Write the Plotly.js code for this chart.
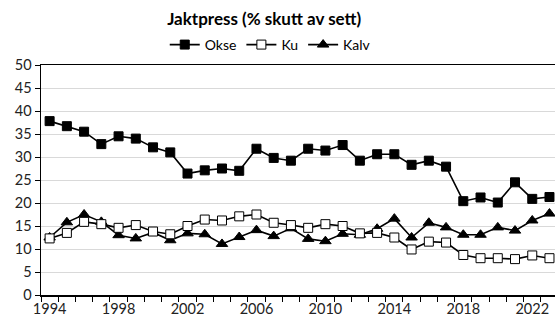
<!DOCTYPE html>
<html>
<head>
<meta charset="utf-8">
<script src="https://cdn.plot.ly/plotly-3.0.1.min.js"></script>
<style>html,body{margin:0;padding:0;background:#fff;}#chart{width:555px;height:319px;}</style>
</head>
<body>
<div id="chart"></div>
<script>
const years = [1994,1995,1996,1997,1998,1999,2000,2001,2002,2003,2004,2005,2006,2007,2008,2009,2010,2011,2012,2013,2014,2015,2016,2017,2018,2019,2020,2021,2022,2023];
const okse = [37.8,36.7,35.5,32.8,34.5,34.0,32.1,31.0,26.4,27.1,27.5,27.0,31.8,29.8,29.2,31.8,31.4,32.6,29.2,30.6,30.6,28.3,29.2,27.9,20.4,21.2,20.1,24.5,20.9,21.3];
const ku   = [12.3,13.5,15.9,15.4,14.6,15.2,13.8,13.2,15.0,16.4,16.2,17.1,17.5,15.7,15.2,14.6,15.4,15.0,13.4,13.5,12.5,9.9,11.6,11.4,8.7,8.0,8.0,7.8,8.6,8.0];
const kalv = [12.5,15.8,17.5,15.9,13.0,12.3,13.6,11.9,13.4,13.2,11.1,12.6,14.1,12.8,14.5,12.2,11.7,13.3,13.1,14.4,16.6,12.5,15.7,14.7,13.1,13.1,14.7,14.0,16.2,17.7];
const labelYears = [1994,1998,2002,2006,2010,2014,2018,2022];
const yTicks = [0,5,10,15,20,25,30,35,40,45,50];

const font = "Lato, 'Open Sans', sans-serif";
const line = {color:'#000', width:1.6};
const traces = [
  {x:years, y:okse, name:'Okse', mode:'lines+markers', line:line, legendrank:1,
   marker:{symbol:'square', size:9, color:'#000', line:{color:'#000', width:1}}, cliponaxis:false},
  {x:years, y:kalv, name:'Kalv', mode:'lines+markers', line:line, legendrank:3,
   marker:{symbol:'triangle-up', size:10, color:'#000', line:{color:'#000', width:1}}, cliponaxis:false},
  {x:years, y:ku, name:'Ku', mode:'lines+markers', line:line, legendrank:2,
   marker:{symbol:'square', size:9, color:'#fff', line:{color:'#000', width:1}}, cliponaxis:false}
];

const layout = {
  width:555, height:319,
  margin:{l:41, r:0, t:65, b:24, pad:0},
  paper_bgcolor:'#fff', plot_bgcolor:'#fff',
  font:{family:font, size:14, color:'#222'},
  title:{text:'<b>Jaktpress (% skutt av sett)</b>', x:0.476, xanchor:'center', y:0.94, yanchor:'middle',
         font:{family:font, size:17, color:'#000'}},
  showlegend:true,
  legend:{orientation:'h', x:0.446, xanchor:'center', y:1.087, yanchor:'middle',
          font:{family:font, size:14, color:'#000'}, traceorder:'normal', itemwidth:30},
  xaxis:{
    range:[1993.5, 2023.32], showgrid:false, zeroline:false,
    showline:true, linecolor:'#000', linewidth:1.5, mirror:true,
    tickmode:'array', tickvals:labelYears, ticktext:labelYears.map(String),
    ticks:'', tickfont:{size:14.5, color:'#222'},
    minor:{tick0:1993.5, dtick:1, ticks:'outside', ticklen:5, tickcolor:'#000', tickwidth:1, showgrid:false}
  },
  yaxis:{
    range:[0,50], tickmode:'array', tickvals:yTicks, ticktext:yTicks.map(String),
    showgrid:true, gridcolor:'#d9d9d9', gridwidth:1, zeroline:false,
    showline:true, linecolor:'#000', linewidth:1.5,
    ticks:'outside', ticklen:5, tickcolor:'#000', tickfont:{size:14.5, color:'#222'}
  }
};
Plotly.newPlot('chart', traces, layout, {displayModeBar:false, staticPlot:true});
</script>
</body>
</html>
